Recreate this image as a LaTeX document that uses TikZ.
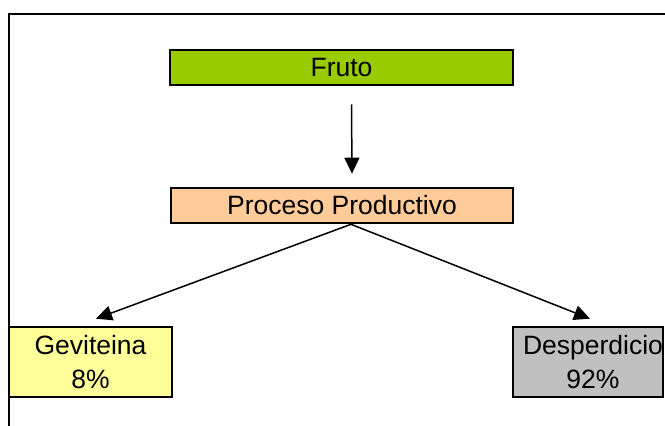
\documentclass[tikz,border=0pt]{standalone}
\usepackage{fontspec}
\setmainfont{Liberation Sans}
\usetikzlibrary{arrows.meta}

\definecolor{frutogreen}{HTML}{99CC00}
\definecolor{procpeach}{HTML}{FFCC99}
\definecolor{gevyellow}{HTML}{FFFF99}
\definecolor{despgray}{HTML}{C0C0C0}

\tikzset{
  box/.style={draw=black, line width=2.6pt, rectangle, inner sep=0pt,
              font=\fontsize{26.5}{34}\selectfont, align=center},
  arr/.style={line width=1.5pt, -{Triangle[length=16pt,width=15pt]}},
  frame/.style={line width=2.6pt}
}

\begin{document}
\begin{tikzpicture}[x=1pt, y=-1pt]
  \useasboundingbox (0,0) rectangle (665,426);
  \clip (0,0) rectangle (665,426);
  \fill[white] (0,0) rectangle (665,426);

  % outer frame (top and left sides)
  \draw[frame] (666,14) -- (9,14) -- (9,430);

  % boxes
  \node[box, fill=frutogreen, minimum width=343pt, minimum height=35pt]
    (fruto) at (341.5,67.5) {Fruto};
  \node[box, fill=procpeach, minimum width=342pt, minimum height=35pt]
    (proc) at (342,205.5) {Proceso Productivo};
  \node[box, fill=gevyellow, minimum width=163pt, minimum height=70pt]
    (gev) at (90.5,362) {Geviteina\\8\%};
  \node[box, fill=despgray, minimum width=150pt, minimum height=70pt]
    (desp) at (588,362) {};
  \node[font=\fontsize{26.5}{34}\selectfont, align=center, inner sep=0pt]
    (desptxt) at ([xshift=5pt]desp.center) {Desperdicio\\92\%};

  % connectors
  \draw[arr] ([xshift=10pt,yshift=-18pt]fruto.south) -- ([xshift=10pt,yshift=13pt]proc.north);
  \draw[arr] ([xshift=9pt]proc.south) -- ([xshift=5.5pt,yshift=7pt]gev.north);
  \draw[arr] ([xshift=9pt]proc.south) -- ([xshift=2pt,yshift=7pt]desp.north);
\end{tikzpicture}
\end{document}
